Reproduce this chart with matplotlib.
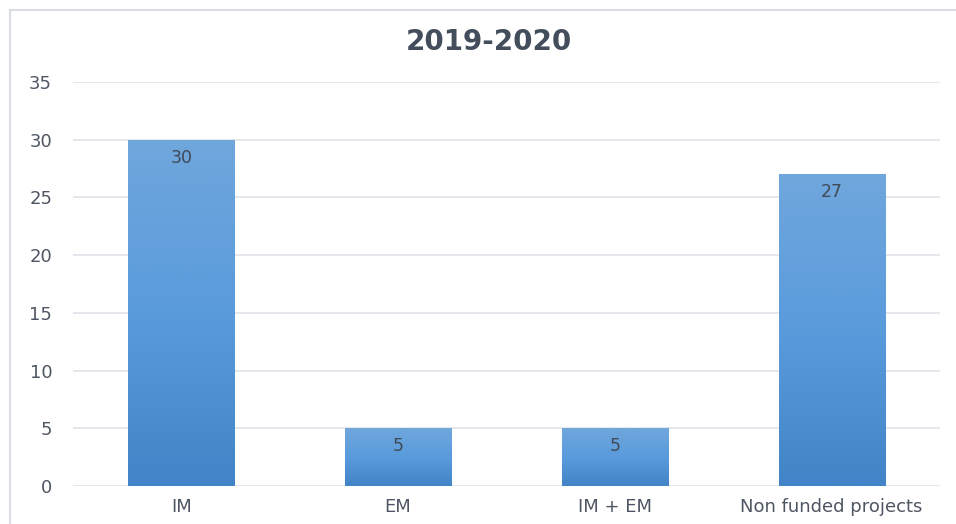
import matplotlib
matplotlib.use("Agg")
import matplotlib.pyplot as plt
import numpy as np
from matplotlib.patches import Rectangle
from matplotlib.colors import LinearSegmentedColormap

categories = ["IM", "EM", "IM + EM", "Non funded projects"]
values = [30, 5, 5, 27]
yticks = [0, 5, 10, 15, 20, 25, 30, 35]
title = "2019-2020"

plt.rcParams['font.family'] = ['DejaVu Sans']

fig = plt.figure(figsize=(9.56, 5.24), dpi=100)
# outer chart frame
fig.patches.append(Rectangle((10/956, -0.1), 1.2, (524-10)/524 + 0.1, transform=fig.transFigure,
                             fill=False, edgecolor="#d9dde3", linewidth=1.5))
ax = fig.add_axes([73/956, 38/524, (940-73)/956, (486-82)/524])

cmap = LinearSegmentedColormap.from_list("g", ["#4184c7", "#5a9bdc", "#70a7dc"])
width = 0.49
x = np.arange(len(categories))
bars = ax.bar(x, values, width=width, color="none", edgecolor="none", zorder=2)
grad = np.linspace(0, 1, 256).reshape(-1, 1)
for b in bars:
    x0, y0 = b.get_x(), b.get_y()
    w, h = b.get_width(), b.get_height()
    im = ax.imshow(grad, cmap=cmap, origin="lower", aspect="auto",
                   extent=[x0, x0 + w, y0, y0 + h], zorder=2)
    im.set_clip_path(b)
ax.set_xlim(-0.5, 3.5)
ax.set_ylim(0, 35)

for xi, v in zip(x, values):
    ax.text(xi, v - 1.55, str(v), ha="center", va="center", fontsize=12.5,
            color="#404a57", zorder=3)

ax.set_yticks(yticks)
ax.set_xticks(x)
ax.set_xticklabels(categories)
ax.grid(axis="y", color="#dfe3e8", linewidth=1.2, zorder=0)
ax.set_axisbelow(True)
for s in ax.spines.values():
    s.set_visible(False)
ax.tick_params(axis="both", length=0, labelsize=13, labelcolor="#4f5663")
ax.tick_params(axis="y", pad=15)
ax.tick_params(axis="x", pad=9)

fig.text(489/956, 1 - 42/524, title, ha="center", va="center", fontsize=20,
         fontweight="bold", color="#434d5c")

fig.savefig("out.png", dpi=100)
